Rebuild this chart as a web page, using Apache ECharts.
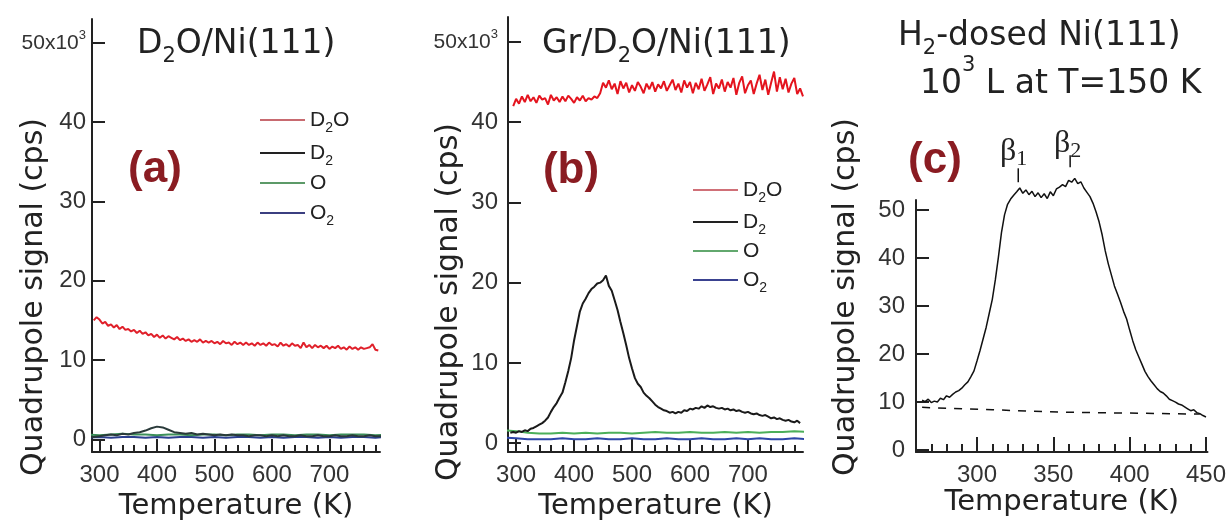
<!DOCTYPE html>
<html><head><meta charset="utf-8">
<script src="https://cdn.jsdelivr.net/npm/echarts@6/dist/echarts.min.js"></script>
<style>html,body{margin:0;padding:0;background:#fff}#c{width:1229px;height:526px}</style>
</head><body><div id="c"></div>
<script>
// ---------------- DATA ----------------
// Panel (a): D2O/Ni(111)
const aTempD2O = { start: 290, step: 5 };
const d2oA = [15.0,15.4,15.1,14.6,14.8,14.3,14.5,14.1,14.4,13.9,14.2,13.8,13.9,13.6,13.8,13.4,13.7,13.3,13.5,13.1,
  13.3,12.9,13.2,12.8,13.1,12.7,13.0,12.8,12.6,12.9,12.5,12.7,12.4,12.6,12.3,12.5,12.3,12.6,12.2,12.4,
  12.2,12.4,12.1,12.3,12.0,12.4,12.1,12.2,11.9,12.3,12.0,12.2,11.9,12.2,11.9,12.1,11.8,12.2,11.9,12.1,
  11.8,12.2,11.9,12.0,11.7,12.2,11.8,12.0,11.7,12.1,11.8,11.9,11.5,12.2,11.6,11.9,11.5,11.9,11.6,11.8,
  11.5,11.8,11.4,11.7,11.5,11.8,11.4,11.6,11.3,11.7,11.4,11.6,11.3,11.6,11.4,11.5,11.6,12.0,11.3,11.2];
const aTempD2 = { start: 280, step: 10 };
const d2A = [0.3,0.3,0.4,0.5,0.6,0.5,0.7,0.6,0.8,0.9,1.1,1.4,1.6,1.5,1.2,0.9,0.8,0.7,0.8,0.6,
  0.7,0.6,0.5,0.6,0.5,0.6,0.5,0.5,0.4,0.5,0.5,0.4,0.5,0.4,0.5,0.4,0.4,0.5,0.4,0.4,
  0.5,0.4,0.4,0.5,0.4,0.4,0.5,0.4,0.4,0.5,0.4,0.4];
const aTempFlat = { start: 280, step: 20 };
const oA  = [0.6,0.5,0.6,0.7,0.6,0.6,0.5,0.6,0.6,0.5,0.6,0.6,0.5,0.6,0.6,0.5,0.6,0.6,0.5,0.6,0.6,0.5,0.6,0.6,0.6,0.5,0.6];
const o2A = [0.2,0.3,0.2,0.3,0.3,0.2,0.3,0.2,0.3,0.3,0.2,0.3,0.2,0.3,0.3,0.2,0.3,0.2,0.3,0.3,0.2,0.3,0.2,0.3,0.3,0.2,0.3];

// Panel (b): Gr/D2O/Ni(111)
const bTempD2O = { start: 295, step: 5 };
const d2oB = [42.0,42.9,42.3,43.2,42.5,43.4,42.6,43.1,42.4,43.3,42.8,43.0,42.2,43.4,42.7,43.1,42.5,43.2,42.6,43.3,
  42.9,42.4,43.1,42.7,43.3,42.6,43.0,42.8,43.2,43.0,43.6,44.9,44.3,45.2,44.1,44.8,43.5,45.1,44.2,44.9,
  43.7,44.6,43.9,45.0,44.4,43.6,44.8,44.1,45.0,43.8,44.7,44.2,45.1,43.9,44.6,45.3,44.0,44.8,43.7,45.2,
  44.3,45.0,43.6,44.9,44.1,45.4,43.9,44.7,45.6,43.5,44.8,44.2,45.3,43.8,45.0,44.3,45.5,43.4,44.9,45.7,
  43.6,44.6,45.2,43.5,44.8,45.9,44.0,45.3,43.4,44.9,46.3,43.8,45.6,44.1,45.4,43.7,44.8,45.5,43.5,44.2,43.2];
const bTempD2 = { start: 290, step: 5 };
const d2B = [1.3,1.4,1.3,1.5,1.4,1.6,1.5,1.8,1.9,2.1,2.3,2.5,2.8,3.2,3.9,4.5,5.0,5.7,6.3,7.6,
  9.0,10.6,12.8,14.6,16.4,17.4,18.0,18.7,19.2,19.5,19.9,20.0,20.3,20.9,19.6,19.0,17.8,16.6,15.1,13.7,
  12.2,10.6,9.3,8.1,7.4,7.0,6.3,5.9,5.6,5.2,4.8,4.5,4.3,4.1,4.0,3.8,3.9,3.7,3.9,3.8,
  4.1,4.0,4.3,4.2,4.4,4.3,4.6,4.4,4.7,4.5,4.6,4.4,4.3,4.4,4.2,4.3,4.1,4.2,4.0,4.1,
  3.9,3.8,3.9,3.7,3.6,3.7,3.5,3.4,3.5,3.3,3.1,3.2,3.0,3.1,2.9,2.8,2.9,2.7,2.6,2.8,2.5];
const bTempFlat = { start: 280, step: 20 };
const oB  = [1.6,1.5,1.3,1.2,1.2,1.3,1.2,1.3,1.2,1.3,1.3,1.2,1.3,1.4,1.3,1.3,1.4,1.3,1.3,1.4,1.3,1.4,1.3,1.4,1.4,1.5,1.4];
const o2B = [0.7,0.6,0.5,0.5,0.5,0.6,0.5,0.5,0.6,0.5,0.5,0.6,0.5,0.5,0.6,0.5,0.5,0.6,0.5,0.5,0.6,0.5,0.6,0.5,0.5,0.6,0.5];

// Panel (c): H2-dosed Ni(111)
const cTemp = { start: 264, step: 2 };
const d2C = [10.4,10.1,10.6,9.9,10.2,10.0,10.8,10.5,11.3,11.0,11.6,12.1,12.4,12.9,13.6,14.2,15.3,16.5,18.6,20.8,
  23.2,25.6,28.5,31.4,35.5,40.2,45.3,49.0,51.2,52.3,53.1,53.8,54.6,53.5,54.2,53.2,53.9,52.8,53.6,52.6,
  53.4,52.4,53.8,53.0,54.4,54.8,55.3,54.9,56.2,55.8,56.6,55.5,55.9,54.6,53.7,52.8,51.4,49.6,47.5,44.8,
  41.5,38.8,36.5,34.2,32.5,30.8,28.9,27.3,25.0,22.8,20.9,19.4,17.9,16.4,15.3,14.4,13.6,12.8,12.2,11.9,
  11.3,10.6,10.3,10.0,9.6,9.4,9.0,8.6,8.2,8.4,7.8,7.6,7.2,6.9];
const bgCTemp = [264, 310, 355, 400, 446];
const bgC     = [8.9, 8.4, 7.9, 7.7, 7.5];
const betaTemp = [327, 361];
const betaLow  = [55.8, 58.9];
const betaHigh = [58.7, 61.4];

// Tick values
const yTicks = [0, 10, 20, 30, 40, 50];
const abMajor = [300, 400, 500, 600, 700];
const abMinor = [300,320,340,360,380,400,420,440,460,480,500,520,540,560,580,600,620,640,660,680,700,720,740,760,780];
const cMajor = [300, 350, 400, 450];
const cMinor = [270,280,290,300,310,320,330,340,350,360,370,380,390,400,410,420,430,440,450];

// ---------------- BUILD ----------------
function pairs(spec, vals) { return vals.map((v, i) => [spec.start + i * spec.step, v]); }
function zip(xs, ys) { return xs.map((x, i) => [x, ys[i]]); }

const TF = 'Liberation Sans, Arial, sans-serif';
const HF = 'DejaVu Sans, sans-serif';
const AX = '#222';

const grids = [
  { left: 92, top: 19, width: 288, height: 437 },
  { left: 508, top: 17, width: 295, height: 441 },
  { left: 916, top: 200, width: 292, height: 252 }
];
const xRange = [[287, 788], [286, 795], [260, 451]];
const yRange = [[-1.6, 53], [-1.1, 53.1], [-0.4, 52.1]];

function xAx(g, labels, gap) {
  return { gridIndex: g, type: 'value', position: 'bottom', min: xRange[g][0], max: xRange[g][1],
    axisLine: { show: true, onZero: false, lineStyle: { color: AX, width: 2 } },
    axisTick: { show: false },
    axisLabel: { customValues: labels, margin: 11, fontSize: 24, fontFamily: TF, color: '#333' },
    splitLine: { show: false },
    name: 'Temperature (K)', nameLocation: 'middle', nameGap: gap,
    nameTextStyle: { fontSize: 29, fontFamily: HF, color: '#222' } };
}
function yAx(g, margin, sci) {
  return { gridIndex: g, type: 'value', position: 'left', min: yRange[g][0], max: yRange[g][1],
    axisLine: { show: true, onZero: false, lineStyle: { color: AX, width: 2 } },
    axisTick: { show: false },
    axisLabel: { customValues: yTicks, margin, fontSize: 24, fontFamily: TF, color: '#333',
      formatter: v => (sci && v === 50) ? '{m|50x10}{p|3}' : String(v),
      rich: { m: { fontSize: 21, fontFamily: TF, color: '#333' },
              p: { fontSize: 13, fontFamily: TF, color: '#333', padding: [0, 0, 14, 0], lineHeight: 21 } } },
    splitLine: { show: false } };
}
// hidden helper axes spanning [0,1]: their zero sits on the grid's bottom / left edge
function helper(g, pos) {
  return { gridIndex: g, type: 'value', position: pos, min: 0, max: 1, show: false };
}
// tick-only axes, pinned (onZero) to the helper axes so they sit on the grid edge
function xTickAx(g, ticks, len) {
  return { gridIndex: g, type: 'value', position: 'bottom', min: xRange[g][0], max: xRange[g][1],
    axisLine: { show: false, onZero: true, onZeroAxisIndex: 3 + g },
    axisTick: { show: true, inside: true, length: len, customValues: ticks, lineStyle: { color: AX, width: 2 } },
    axisLabel: { show: false }, splitLine: { show: false } };
}
function yTickAx(g) {
  return { gridIndex: g, type: 'value', position: 'left', min: yRange[g][0], max: yRange[g][1],
    axisLine: { show: false, onZero: true, onZeroAxisIndex: 3 + g },
    axisTick: { show: true, inside: true, length: 13, customValues: yTicks, lineStyle: { color: AX, width: 2 } },
    axisLabel: { show: false }, splitLine: { show: false } };
}
function line(name, g, data, color, width, z, extra) {
  return Object.assign({ type: 'line', name, xAxisIndex: g, yAxisIndex: g, data, symbol: 'none',
    lineStyle: { color, width }, itemStyle: { color }, z, silent: true, animation: false }, extra || {});
}

const subRich = {
  s: { fontSize: 14, fontFamily: TF, color: '#222', padding: [16, 0, 0, 0], lineHeight: 24 }
};
function legendFmt(name) { return name.slice(2).replace('2', '{s|2}'); }
function legend(left, top, gap, prefix, colors) {
  const names = ['D2O', 'D2', 'O', 'O2'];
  return { left, top, orient: 'vertical', itemGap: gap, itemWidth: 45, itemHeight: 2, icon: 'rect',
    selectedMode: false,
    data: names.map((n, i) => ({ name: prefix + n, itemStyle: { color: colors[i] } })),
    formatter: legendFmt,
    textStyle: { fontSize: 21, fontFamily: TF, color: '#222', lineHeight: 24, rich: subRich } };
}

const titleRich = {
  s: { fontSize: 21, fontFamily: HF, color: '#222', padding: [26, 0, 0, 0], lineHeight: 33 },
  p: { fontSize: 21, fontFamily: HF, color: '#222', padding: [0, 0, 36, 0], lineHeight: 33 }
};
function htext(x, y, text) {
  return { type: 'text', x, y, silent: true,
    style: { text, font: '33px DejaVu Sans', fill: '#222', align: 'left', verticalAlign: 'middle', rich: titleRich } };
}
function ytitle(x, y) {
  return { type: 'text', x, y, rotation: Math.PI / 2, silent: true,
    style: { text: 'Quadrupole signal (cps)', font: '30px DejaVu Sans', fill: '#222', align: 'center', verticalAlign: 'middle' } };
}
function letter(x, y, t) {
  return { type: 'text', x, y, silent: true,
    style: { text: t, font: 'bold 44px Liberation Sans', fill: '#8a1c22', align: 'center', verticalAlign: 'middle' } };
}
const betaRich = { s: { fontSize: 22, fontFamily: 'Liberation Serif', color: '#222', padding: [14, 0, 0, 0], lineHeight: 30 } };
function beta(x, y, t) {
  return { type: 'text', x, y, silent: true,
    style: { text: t, font: '32px Liberation Serif', fill: '#222', align: 'left', verticalAlign: 'middle', rich: betaRich } };
}

const option = {
  backgroundColor: '#fff',
  animation: false,
  grid: grids,
  xAxis: [
    xAx(0, abMajor, 40), xAx(1, abMajor, 40), xAx(2, cMajor, 36),
    helper(0, 'bottom'), helper(1, 'bottom'), helper(2, 'bottom'),
    xTickAx(0, abMajor, 13), xTickAx(0, abMinor, 7),
    xTickAx(1, abMajor, 13), xTickAx(1, abMinor, 7),
    xTickAx(2, cMajor, 15), xTickAx(2, cMinor, 8)
  ],
  yAxis: [
    yAx(0, 6, true), yAx(1, 10, true), yAx(2, 11, false),
    helper(0, 'left'), helper(1, 'left'), helper(2, 'left'),
    yTickAx(0), yTickAx(1), yTickAx(2)
  ],
  legend: [
    legend(255, 100, 3, 'a:', ['#c86a70', '#222222', '#5c9a68', '#3b3f80']),
    legend(688, 170, 2, 'b:', ['#d07078', '#222222', '#62a86e', '#3a4290'])
  ],
  series: [
    line('a:O2', 0, pairs(aTempFlat, o2A), '#2b3f8f', 2, 2),
    line('a:O', 0, pairs(aTempFlat, oA), '#3c8f5a', 2, 3),
    line('a:D2', 0, pairs(aTempD2, d2A), '#2a3a3a', 2, 4),
    line('a:D2O', 0, pairs(aTempD2O, d2oA), '#e0202a', 2, 5),
    line('b:O2', 1, pairs(bTempFlat, o2B), '#2d46a8', 2, 2),
    line('b:O', 1, pairs(bTempFlat, oB), '#4caf5a', 2, 3),
    line('b:D2', 1, pairs(bTempD2, d2B), '#1a1a1a', 2, 4),
    line('b:D2O', 1, pairs(bTempD2O, d2oB), '#e4141e', 2, 5),
    line('c:bg', 2, zip(bgCTemp, bgC), '#111', 1.5, 3, { lineStyle: { color: '#111', width: 1.5, type: [8, 8] } }),
    line('c:D2', 2, pairs(cTemp, d2C), '#111', 1.5, 4, { clip: false }),
    line('c:b1', 2, [[betaTemp[0], betaLow[0]], [betaTemp[0], betaHigh[0]]], '#111', 1.5, 4, { clip: false }),
    line('c:b2', 2, [[betaTemp[1], betaLow[1]], [betaTemp[1], betaHigh[1]]], '#111', 1.5, 4, { clip: false })
  ],
  graphic: [
    ytitle(34, 297), ytitle(449, 302), ytitle(846, 297),
    htext(137, 44, 'D{s|2}O/Ni(111)'),
    htext(542, 44, 'Gr/D{s|2}O/Ni(111)'),
    htext(898, 36, 'H{s|2}-dosed Ni(111)'),
    htext(920, 84, '10{p|3} L at T=150 K'),
    letter(155, 170, '(a)'), letter(571, 171, '(b)'), letter(935, 161, '(c)'),
    beta(1000, 152, 'β{s|1}'), beta(1054, 144, 'β{s|2}')
  ]
};
const chart = echarts.init(document.getElementById('c'), null, { renderer: 'canvas' });
chart.setOption(option);
</script></body></html>
